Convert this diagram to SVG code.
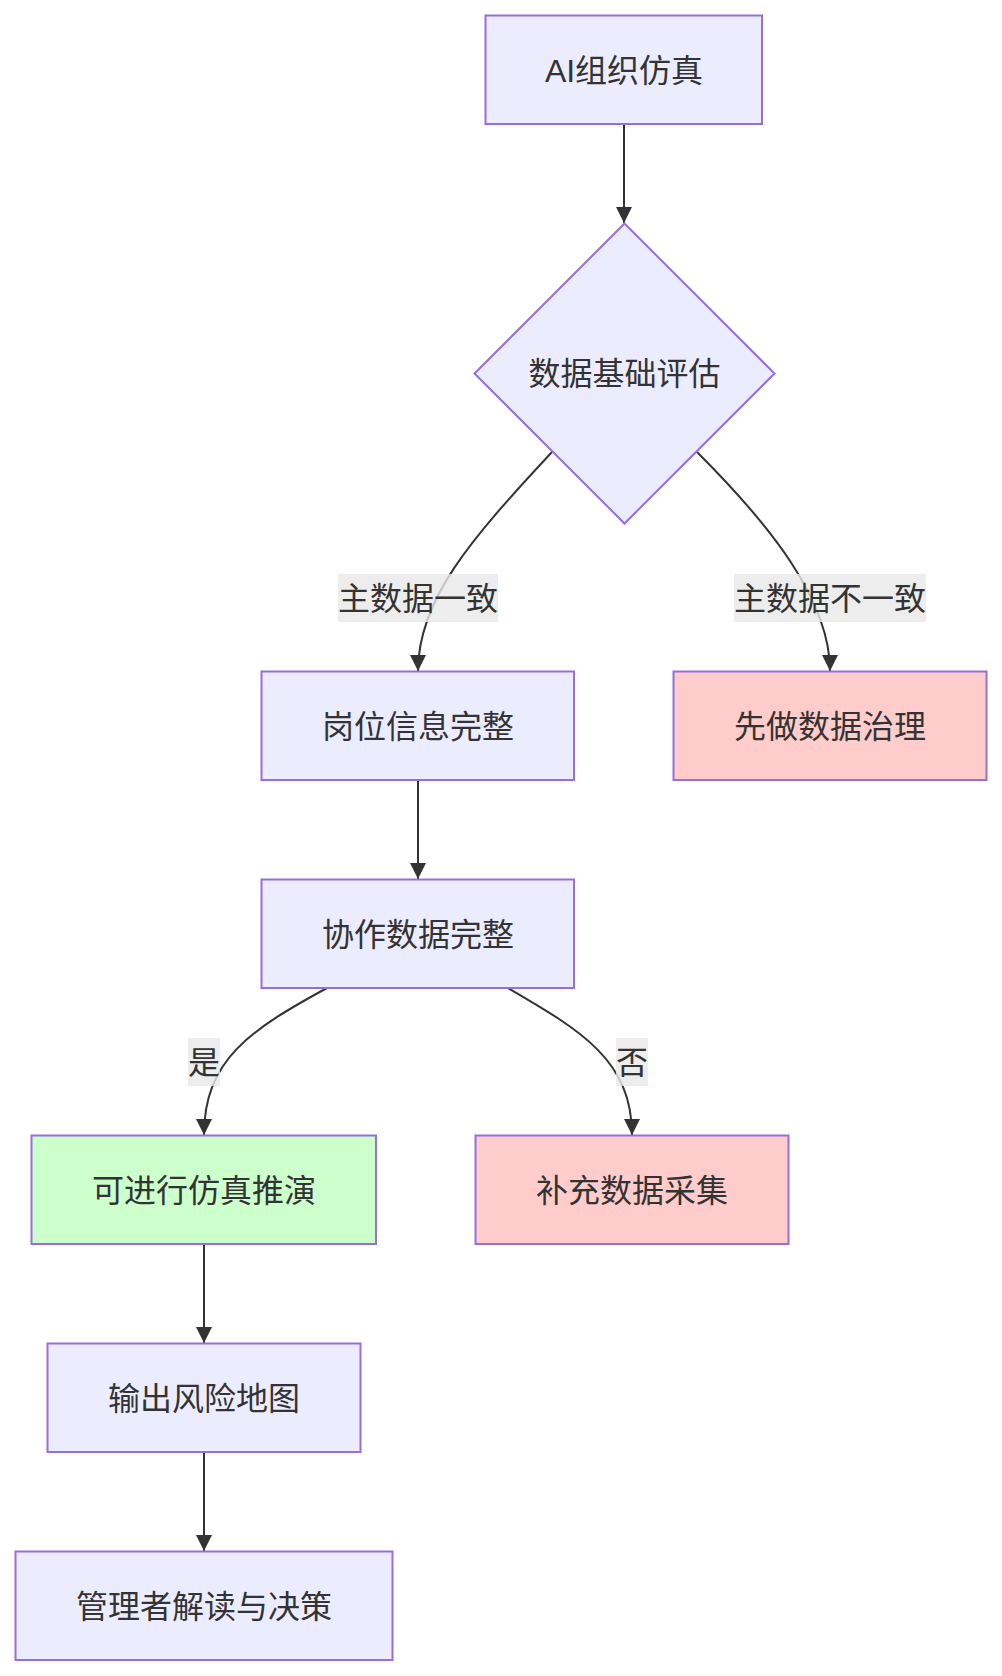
<svg xmlns="http://www.w3.org/2000/svg" width="1002" height="1676" viewBox="0 0 1002 1676">
<style>
  .node rect, .node polygon { stroke: #9370DB; stroke-width: 2; }
  .default { fill: #ECECFF; }
  .bad { fill: #FFCCCC; }
  .good { fill: #CCFFCC; }
  text { font-family: "Liberation Sans", "Noto Sans CJK SC", sans-serif; font-size: 32px; fill: #333333; text-anchor: middle; }
  .edge { fill: none; stroke: #333333; stroke-width: 2; }
  .lbl { fill: #e8e8e8; fill-opacity: 0.8; }
</style>
<defs>
  <marker id="arrow" markerUnits="userSpaceOnUse" markerWidth="16" markerHeight="16" refX="16" refY="8" orient="auto">
    <path d="M0,0 L16,8 L0,16 z" fill="#333333"/>
  </marker>
</defs>
<rect width="1002" height="1676" fill="#ffffff"/>
<g id="connectors">
  <path class="edge" d="M624,124 L624,223" marker-end="url(#arrow)"/>
  <path class="edge" d="M552,452 C470,540 418,600 418,671" marker-end="url(#arrow)"/>
  <path class="edge" d="M697,452 C770,525 830,600 830,671" marker-end="url(#arrow)"/>
  <path class="edge" d="M418,780 L418,879" marker-end="url(#arrow)"/>
  <path class="edge" d="M327,988 C250,1030 204,1060 204,1135" marker-end="url(#arrow)"/>
  <path class="edge" d="M508,988 C580,1030 632,1060 632,1135" marker-end="url(#arrow)"/>
  <path class="edge" d="M204,1244 L204,1343" marker-end="url(#arrow)"/>
  <path class="edge" d="M204,1452 L204,1551" marker-end="url(#arrow)"/>
  <g id="label-consistent">
    <rect class="lbl" x="338" y="574" width="160" height="48"/>
    <text x="418" y="609.5">主数据一致</text>
  </g>
  <g id="label-inconsistent">
    <rect class="lbl" x="734" y="574" width="192" height="48"/>
    <text x="830" y="609.5">主数据不一致</text>
  </g>
  <g id="label-yes">
    <rect class="lbl" x="188" y="1038" width="32" height="48"/>
    <text x="204" y="1073.5">是</text>
  </g>
  <g id="label-no">
    <rect class="lbl" x="616" y="1038" width="32" height="48"/>
    <text x="632" y="1073.5">否</text>
  </g>
</g>
<g id="A" class="node">
  <rect class="default" x="485.5" y="15.5" width="276.5" height="108.5"/>
  <text x="624" y="81.5">AI组织仿真</text>
</g>
<g id="B" class="node">
  <polygon class="default" points="624.5,223.5 774.5,373.5 624.5,523.5 474.5,373.5"/>
  <text x="624.5" y="385">数据基础评估</text>
</g>
<g id="C" class="node">
  <rect class="default" x="261.5" y="671.5" width="312.5" height="108.5"/>
  <text x="418" y="737.5">岗位信息完整</text>
</g>
<g id="D" class="node">
  <rect class="bad" x="673.5" y="671.5" width="313" height="108.5"/>
  <text x="830" y="737.5">先做数据治理</text>
</g>
<g id="E" class="node">
  <rect class="default" x="261.5" y="879.5" width="312.5" height="108.5"/>
  <text x="418" y="945.5">协作数据完整</text>
</g>
<g id="F" class="node">
  <rect class="good" x="31.5" y="1135.5" width="344.5" height="108.5"/>
  <text x="204" y="1201.5">可进行仿真推演</text>
</g>
<g id="G" class="node">
  <rect class="bad" x="475.5" y="1135.5" width="313" height="108.5"/>
  <text x="632" y="1201.5">补充数据采集</text>
</g>
<g id="H" class="node">
  <rect class="default" x="47.5" y="1343.5" width="313" height="108.5"/>
  <text x="204" y="1409.5">输出风险地图</text>
</g>
<g id="I" class="node">
  <rect class="default" x="15.5" y="1551.5" width="377" height="108.5"/>
  <text x="204" y="1617.5">管理者解读与决策</text>
</g>
</svg>
